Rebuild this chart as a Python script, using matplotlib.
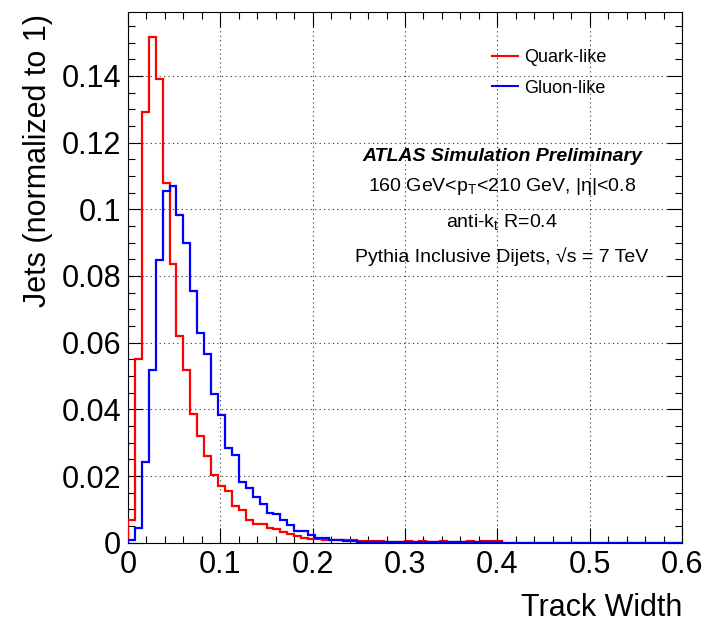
import numpy as np
import matplotlib
matplotlib.use("Agg")
import matplotlib.pyplot as plt
from matplotlib.lines import Line2D
from matplotlib.ticker import MultipleLocator, FuncFormatter

plt.rcParams['font.family'] = ['Liberation Sans', 'DejaVu Sans']
plt.rcParams['mathtext.fontset'] = 'custom'
plt.rcParams['mathtext.rm'] = 'Liberation Sans'
plt.rcParams['mathtext.it'] = 'Liberation Sans:italic'

# --- data: track width, 80 bins of 0.0075 from 0 to 0.6 ---
x_min, x_max, n_bins = 0.0, 0.6, 80

quark = [
    0.0068, 0.0552, 0.1293, 0.1516, 0.1391, 0.1078, 0.0836, 0.0620, 0.0518, 0.0387,
    0.0321, 0.0260, 0.0202, 0.0169, 0.0154, 0.0109, 0.0098, 0.0067, 0.0057, 0.0057,
    0.0043, 0.0041, 0.0031, 0.0027, 0.0020, 0.0015, 0.0012, 0.0010, 0.0009, 0.0008,
    0.0007, 0.0008, 0.0007, 0.0004, 0.0004, 0.0006, 0.0006, 0.0003, 0.0003, 0.0002,
    0.0005, 0.0002, 0.0005, 0.0002, 0.0002, 0.0005, 0.0002, 0.0001, 0.0001, 0.0005,
    0.0001, 0.0004, 0.0004, 0.0004, 0.0, 0.0, 0.0, 0.0, 0.0, 0.0,
    0.0, 0.0, 0.0, 0.0, 0.0, 0.0, 0.0, 0.0, 0.0, 0.0,
    0.0, 0.0, 0.0, 0.0, 0.0, 0.0, 0.0, 0.0, 0.0, 0.0,
]

gluon = [
    0.0008, 0.0043, 0.0241, 0.0518, 0.0848, 0.1056, 0.1071, 0.0983, 0.0898, 0.0755,
    0.0630, 0.0566, 0.0445, 0.0382, 0.0283, 0.0262, 0.0183, 0.0163, 0.0138, 0.0117,
    0.0088, 0.0087, 0.0069, 0.0053, 0.0036, 0.0036, 0.0023, 0.0013, 0.0013, 0.0009,
    0.0007, 0.0005, 0.0004, 0.0003, 0.0003, 0.0002, 0.0002, 0.0002, 0.0001, 0.0001,
    0.0001, 0.0001, 0.0001, 0.0001, 0.0001, 0.0001, 0.0001, 0.0001, 0.0001, 0.0001,
    0.0001, 0.0001, 0.0001, 0.0001, 0.0, 0.0, 0.0, 0.0, 0.0, 0.0,
    0.0, 0.0, 0.0, 0.0, 0.0, 0.0, 0.0, 0.0, 0.0, 0.0,
    0.0, 0.0, 0.0, 0.0, 0.0, 0.0, 0.0, 0.0, 0.0, 0.0,
]

labels = ["Quark-like", "Gluon-like"]
colors = ["#ff0000", "#0000ff"]

info_lines = [
    "160 GeV<p$_\\mathrm{T}$<210 GeV, |η|<0.8",
    "anti-k$_\\mathrm{t}$ R=0.4",
    "Pythia Inclusive Dijets, √s = 7 TeV",
]

# --- figure ---
W, H = 709, 622
fig = plt.figure(figsize=(W / 100, H / 100), dpi=100)
ax = fig.add_axes([128 / W, 1 - 542.7 / H, (682 - 128) / W, (542.7 - 12.3) / H])

edges = np.linspace(x_min, x_max, n_bins + 1)
ax.stairs(quark, edges, color=colors[0], lw=1.6, baseline=0, zorder=3)
ax.stairs(gluon, edges, color=colors[1], lw=1.6, baseline=0, zorder=4)

ax.set_xlim(x_min, x_max)
ax.set_ylim(0, 0.1591)

ax.xaxis.set_major_locator(MultipleLocator(0.1))
ax.xaxis.set_minor_locator(MultipleLocator(0.02))
ax.yaxis.set_major_locator(MultipleLocator(0.02))
ax.yaxis.set_minor_locator(MultipleLocator(0.005))
fmt = FuncFormatter(lambda v, p: "0" if abs(v) < 1e-9 else ("%.2f" % v).rstrip("0"))
ax.xaxis.set_major_formatter(fmt)
ax.yaxis.set_major_formatter(fmt)

ax.tick_params(which="both", direction="in", top=True, right=True, width=0.8, labelsize=22)
ax.tick_params(which="major", length=10.5, pad=5)
ax.tick_params(which="minor", length=5.2)
for s in ax.spines.values():
    s.set_linewidth(0.8)

ax.grid(which="major", linestyle=(0, (1, 3)), color="#333333", lw=0.8, zorder=1)

fig.text(38 / W, 1 - 14 / H, "Jets (normalized to 1)", rotation=90,
         ha="center", va="top", fontsize=22)
fig.text(682 / W, 1 - 608 / H, "Track Width", ha="right", va="center", fontsize=22)

# legend
handles = [Line2D([], [], color=c, lw=1.5) for c in colors]
ax.legend(handles, labels, loc="center left", frameon=False, fontsize=13,
          bbox_to_anchor=(476 / W, 1 - 73 / H), bbox_transform=fig.transFigure,
          handlelength=1.45, handletextpad=0.3, labelspacing=0.75)

# ATLAS label block
cx = 502 / W
fig.text(cx, 1 - 156.7 / H, "ATLAS Simulation Preliminary", ha="center", va="center",
         fontsize=14, fontweight="bold", fontstyle="italic")
for yy, txt in zip([186.7, 221.7, 256.7], info_lines):
    fig.text(cx, 1 - yy / H, txt, ha="center", va="center", fontsize=14)

fig.savefig("out.png", dpi=100)
